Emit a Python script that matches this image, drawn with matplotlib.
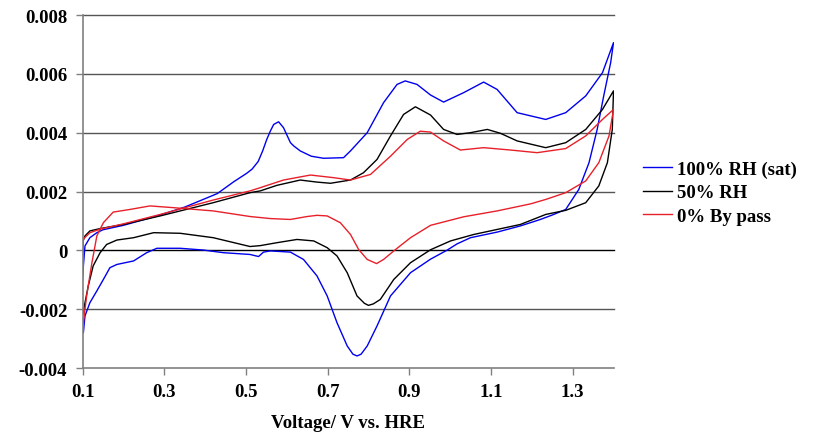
import numpy as np
import matplotlib
matplotlib.use('Agg')
import matplotlib.pyplot as plt

plt.rcParams['font.family'] = ['Liberation Serif', 'DejaVu Serif']
plt.rcParams['font.weight'] = 'bold'

#100% RH (sat): anodic sweep then cathodic sweep (V, current in mA)
v_sat_up = [0.100, 0.106, 0.118, 0.135, 0.150, 0.200, 0.290, 0.350, 0.404, 0.430, 0.470, 0.502,
            0.515, 0.530, 0.541, 0.551, 0.560, 0.568, 0.580, 0.592, 0.609, 0.617, 0.633, 0.660,
            0.690, 0.739, 0.756, 0.797, 0.837, 0.870, 0.890, 0.919, 0.952, 0.984, 1.033, 1.082,
            1.115, 1.164, 1.234, 1.283, 1.332, 1.373, 1.400]
i_sat_up = [-0.87, 0.15, 0.43, 0.60, 0.70, 0.85, 1.20, 1.47, 1.78, 1.93, 2.33, 2.62,
            2.76, 3.02, 3.38, 3.77, 4.06, 4.28, 4.37, 4.17, 3.66, 3.55, 3.38, 3.20,
            3.13, 3.15, 3.38, 4.00, 5.02, 5.64, 5.76, 5.64, 5.28, 5.04, 5.36, 5.72,
            5.47, 4.68, 4.45, 4.68, 5.25, 6.04, 7.06]
v_sat_dn = [1.400, 1.393, 1.376, 1.360, 1.340, 1.315, 1.283, 1.250, 1.221, 1.172, 1.115, 1.050,
            1.017, 0.993, 0.952, 0.903, 0.854, 0.821, 0.797, 0.782, 0.772, 0.762, 0.748, 0.723,
            0.699, 0.674, 0.641, 0.609, 0.560, 0.543, 0.531, 0.519, 0.510, 0.445, 0.396, 0.339,
            0.282, 0.257, 0.225, 0.184, 0.167, 0.151, 0.135, 0.118, 0.106, 0.102]
i_sat_dn = [7.06, 6.38, 5.25, 4.11, 2.98, 2.07, 1.39, 1.20, 1.05, 0.83, 0.62, 0.43,
            0.22, 0.01, -0.30, -0.76, -1.55, -2.57, -3.25, -3.53, -3.59, -3.53, -3.25, -2.46,
            -1.55, -0.87, -0.31, -0.06, -0.02, -0.06, -0.21, -0.17, -0.14, -0.08, 0.01, 0.07,
            0.07, -0.08, -0.36, -0.48, -0.59, -0.99, -1.38, -1.78, -2.23, -2.80]

#50% RH
v_50_up = [0.100, 0.101, 0.106, 0.118, 0.143, 0.200, 0.290, 0.420, 0.510, 0.535, 0.576, 0.633,
           0.674, 0.707, 0.756, 0.788, 0.821, 0.854, 0.886, 0.915, 0.952, 0.984, 1.017, 1.050,
           1.091, 1.123, 1.164, 1.234, 1.283, 1.332, 1.373, 1.400]
i_50_up = [-0.90, 0.30, 0.49, 0.66, 0.74, 0.88, 1.17, 1.62, 1.96, 2.02, 2.21, 2.39,
           2.32, 2.28, 2.39, 2.64, 3.09, 3.89, 4.62, 4.88, 4.60, 4.11, 3.94, 4.00,
           4.11, 3.98, 3.72, 3.49, 3.66, 4.11, 4.79, 5.42]
v_50_dn = [1.400, 1.397, 1.385, 1.364, 1.332, 1.283, 1.234, 1.172, 1.115, 1.058,
           1.001, 0.952, 0.903, 0.862, 0.829, 0.812, 0.800, 0.790, 0.772, 0.748, 0.723, 0.699,
           0.666, 0.625, 0.576, 0.535, 0.510, 0.420, 0.339, 0.274, 0.225, 0.184, 0.159, 0.143,
           0.126, 0.114, 0.106, 0.100]
i_50_dn = [5.42, 4.11, 2.98, 2.19, 1.62, 1.36, 1.22, 0.88, 0.71, 0.54,
           0.32, 0.02, -0.42, -0.99, -1.67, -1.82, -1.87, -1.80, -1.55, -0.76, -0.19, 0.09,
           0.32, 0.37, 0.26, 0.16, 0.13, 0.43, 0.58, 0.60, 0.43, 0.35, 0.20, -0.08,
           -0.53, -1.21, -1.78, -2.23]

#0% By pass
v_0_up = [0.100, 0.101, 0.118, 0.143, 0.200, 0.290, 0.420, 0.510, 0.535, 0.592, 0.658, 0.715,
          0.756, 0.805, 0.854, 0.895, 0.927, 0.952, 0.984, 1.025, 1.082, 1.148, 1.213, 1.283,
          1.332, 1.373, 1.400]
i_0_up = [-1.00, 0.37, 0.60, 0.72, 0.90, 1.22, 1.71, 2.02, 2.13, 2.39, 2.56, 2.47,
          2.39, 2.58, 3.20, 3.77, 4.05, 4.02, 3.72, 3.41, 3.49, 3.41, 3.32, 3.46,
          3.89, 4.45, 4.79]
v_0_dn = [1.400, 1.389, 1.364, 1.332, 1.283, 1.234, 1.197, 1.115, 1.033, 0.952, 0.903, 0.862,
          0.837, 0.820, 0.797, 0.776, 0.756, 0.731, 0.699, 0.674, 0.650, 0.609, 0.560, 0.510,
          0.420, 0.323, 0.265, 0.216, 0.175, 0.151, 0.135, 0.123, 0.110, 0.102]
i_0_dn = [4.79, 3.89, 2.98, 2.36, 1.96, 1.73, 1.58, 1.34, 1.14, 0.85, 0.43, -0.02,
          -0.31, -0.45, -0.31, 0.03, 0.54, 0.94, 1.17, 1.19, 1.15, 1.05, 1.08, 1.15,
          1.34, 1.45, 1.51, 1.39, 1.30, 0.94, 0.49, -0.42, -1.55, -2.46]

labels = ['100% RH (sat)', '50% RH', '0% By pass']
colors = ['#0000ee', 'black', '#e8202a']
xticks = [0.1, 0.3, 0.5, 0.7, 0.9, 1.1, 1.3]
yticks = [-0.004, -0.002, 0, 0.002, 0.004, 0.006, 0.008]
ytick_labels = ['-0.004', '-0.002', '0', '0.002', '0.004', '0.006', '0.008']

fig = plt.figure(figsize=(8.14, 4.35), dpi=100)
ax = fig.add_axes([0.1014, 0.1517, 0.6523, 0.8115])

series = [(v_sat_up + v_sat_dn, i_sat_up + i_sat_dn),
          (v_50_up + v_50_dn, i_50_up + i_50_dn),
          (v_0_up + v_0_dn, i_0_up + i_0_dn)]
for (v, i), lab, col in zip(series, labels, colors):
    ax.plot(v, np.array(i) * 1e-3, color=col, lw=1.0, label=lab)

#gridlines
for y in yticks[1:]:
    ax.axhline(y, color='black' if y == 0 else '#555555', lw=1.0, zorder=0.5, clip_on=False)

ax.set_xlim(0.1, 1.4)
ax.set_ylim(-0.004, 0.008)
ax.set_xticks(xticks)
ax.set_xticklabels([str(t) for t in xticks])
ax.set_yticks(yticks)
ax.set_yticklabels(ytick_labels)
ax.tick_params(axis='both', direction='out', length=5, width=1, color='#808080',
               labelsize=13.5, pad=6)

for s in ['top', 'right']:
    ax.spines[s].set_visible(False)
for s in ['left', 'bottom']:
    ax.spines[s].set_color('#808080')
    ax.spines[s].set_linewidth(1.2)

ax.set_xlabel('Voltage/ V vs. HRE', fontsize=13.5, fontweight='bold', labelpad=10)

leg = fig.legend(loc='center left', bbox_to_anchor=(0.790, 0.5547), frameon=False,
                 fontsize=13.5, handlelength=1.55, handletextpad=0.27, labelspacing=0.345,
                 borderpad=0, borderaxespad=0)

fig.savefig('out.png', dpi=100)
